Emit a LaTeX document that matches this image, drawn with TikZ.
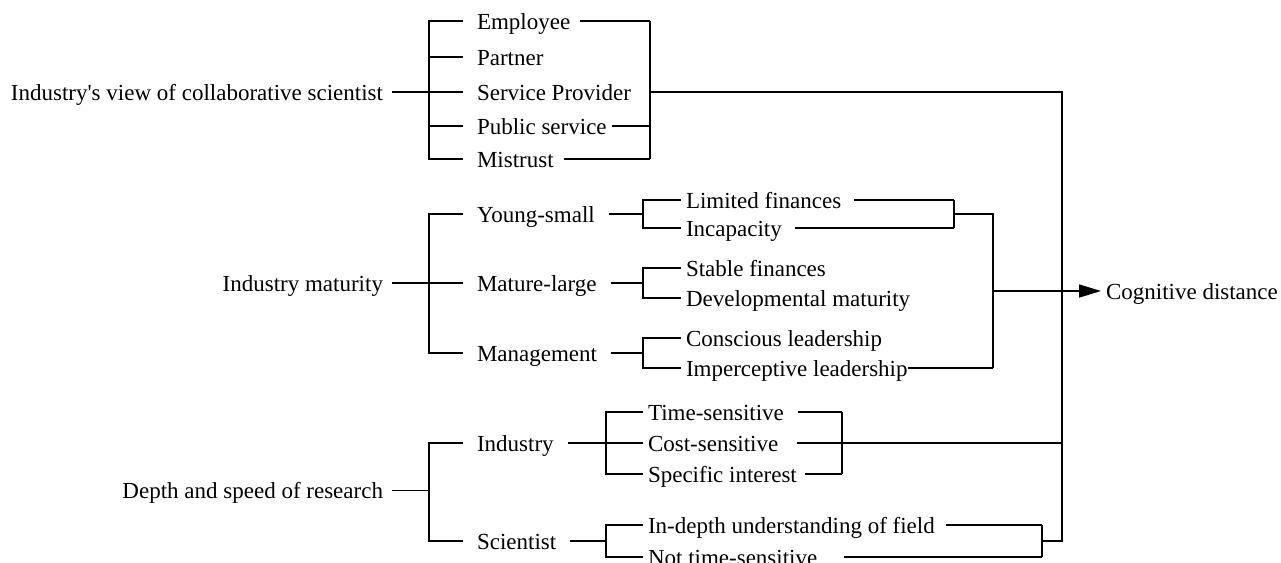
\documentclass[tikz,border=0pt]{standalone}
\usepackage{fontspec}
\setmainfont{Liberation Serif}
\usetikzlibrary{arrows.meta}

\begin{document}
\begin{tikzpicture}[x=1pt,y=-1pt,
  txt/.style={inner sep=0pt,text height=16pt,text depth=0pt,font=\fontsize{23}{27}\selectfont},
  root/.style={txt,anchor=east,outer xsep=9pt},
  item/.style={txt,anchor=west,outer xsep=14pt},
  sub/.style={txt,anchor=west,outer xsep=5pt},
  ln/.style={line width=1.6pt}]
\useasboundingbox (0,0) rectangle (1281,562);

% bracket rails
\coordinate (lb) at (429,0);
\coordinate (vb) at (650,0);
\coordinate (mb) at (643,0);
\coordinate (fb) at (954,0);
\coordinate (jn) at (993,0);
\coordinate (ib) at (606,0);
\coordinate (sb) at (842,0);
\coordinate (db) at (1042,0);
\coordinate (trunk) at (1062,0);

% view of the scientist
\node[root] (view) at (392,92) {Industry\textquotesingle s view of collaborative scientist};
\node[item] (emp) at (463,21) {Employee};
\node[item] (par) at (463,57) {Partner};
\node[item] (svc) at (463,92) {Service Provider};
\node[item] (pub) at (463,126) {Public service};
\node[item] (mis) at (463,159) {Mistrust};
\draw[ln] (emp.west) -- (emp -| lb) -- (mis -| lb) -- (mis.west);
\draw[ln] (par.west) -- (par -| lb);
\draw[ln] (pub.west) -- (pub -| lb);
\draw[ln] (view.east) -- (svc.west);
\draw[ln,shorten <=-4pt] (emp.east) -- (emp -| vb);
\draw[ln,shorten <=-9pt] (pub.east) -- (pub -| vb);
\draw[ln,shorten <=-4pt] (mis.east) -- (mis -| vb);
\draw[ln] (emp -| vb) -- (mis -| vb);

% maturity
\node[root] (mat) at (392,283) {Industry maturity};
\node[item] (yng) at (463,214) {Young-small};
\node[item] (lrg) at (463,283) {Mature-large};
\node[item] (mgt) at (463,353) {Management};
\draw[ln] (yng.west) -- (yng -| lb) -- (mgt -| lb) -- (mgt.west);
\draw[ln] (mat.east) -- (lrg.west);

\node[sub] (lim) at (681,200) {Limited finances};
\node[sub] (inc) at (681,228) {Incapacity};
\draw[ln] (yng.east) -- (yng -| mb);
\draw[ln] (lim.west) -- (lim -| mb) -- (inc -| mb) -- (inc.west);

\node[sub] (stb) at (681,268) {Stable finances};
\node[sub] (dev) at (681,298) {Developmental maturity};
\draw[ln] (lrg.east) -- (lrg -| mb);
\draw[ln] (stb.west) -- (stb -| mb) -- (dev -| mb) -- (dev.west);

\node[sub] (con) at (681,338) {Conscious leadership};
\node[sub] (imp) at (681,368) {Imperceptive leadership};
\draw[ln] (mgt.east) -- (mgt -| mb);
\draw[ln] (con.west) -- (con -| mb) -- (imp -| mb) -- (imp.west);

\draw[ln,shorten <=8pt] (lim.east) -- (lim -| fb);
\draw[ln,shorten <=8pt] (inc.east) -- (inc -| fb);
\draw[ln] (lim -| fb) -- (inc -| fb);
\draw[ln] (yng -| fb) -- (yng -| jn) -- (imp -| jn);
\draw[ln,shorten <=-5pt] (imp.east) -- (imp -| jn);

% result
\node[sub] (cog) at (1101,291) {Cognitive distance};
\draw[ln,-{Triangle[length=22pt,width=13pt]}] (jn |- cog) -- (cog.west);

% depth and speed
\node[root] (dep) at (392,490.5) {Depth and speed of research};
\node[item] (ind) at (463,443) {Industry};
\node[item] (sci) at (463,541) {Scientist};
\draw[ln] (ind.west) -- (ind -| lb) -- (sci -| lb) -- (sci.west);
\draw[ln] (dep.east) -- (dep -| lb);

\node[sub] (tim) at (643,412) {Time-sensitive};
\node[sub] (cst) at (643,443) {Cost-sensitive};
\node[sub] (spc) at (643,474) {Specific interest};
\draw[ln] (ind.east) -- (cst.west);
\draw[ln] (tim.west) -- (tim -| ib) -- (spc -| ib) -- (spc.west);
\draw[ln,shorten <=9pt] (tim.east) -- (tim -| sb);
\draw[ln,shorten <=14pt] (cst.east) -- (cst -| trunk);
\draw[ln,shorten <=3pt] (spc.east) -- (spc -| sb);
\draw[ln] (tim -| sb) -- (spc -| sb);

\node[sub] (dpt) at (643,525) {In-depth understanding of field};
\node[sub] (nts) at (643,557) {Not time-sensitive};
\draw[ln] (sci.east) -- (sci -| ib);
\draw[ln] (dpt.west) -- (dpt -| ib) -- (nts -| ib) -- (nts.west);
\draw[ln,shorten <=6pt] (dpt.east) -- (dpt -| db);
\draw[ln,shorten <=22pt] (nts.east) -- (nts -| db);
\draw[ln] (dpt -| db) -- (nts -| db);

% trunk into the result
\draw[ln] (svc -| vb) -- (svc -| trunk) -- (sci -| trunk) -- (sci -| db);
\end{tikzpicture}
\end{document}
